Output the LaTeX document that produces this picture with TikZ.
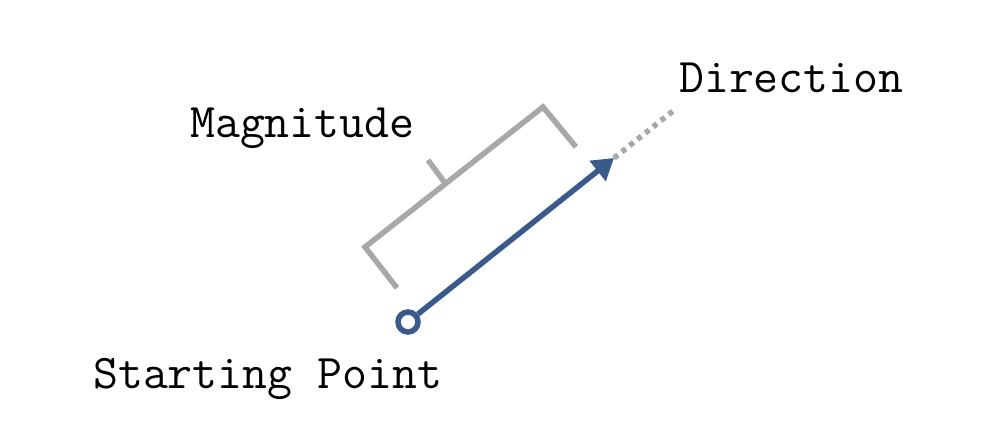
\documentclass[tikz,border=0pt]{standalone}
\usepackage{tikz}
\usetikzlibrary{arrows.meta,positioning}
\definecolor{vecblue}{HTML}{3A5A8C}
\definecolor{bracegray}{HTML}{A8A8A8}

\begin{document}
\begin{tikzpicture}[x=1pt, y=-1pt,
  lbl/.style={font=\ttfamily\fontsize{48.4}{54}\selectfont, inner sep=0pt, anchor=base west},
  pt/.style={draw=vecblue, circle, line width=5.5pt, minimum size=20pt, inner sep=0pt, fill=white},
  vec/.style={draw=vecblue, line width=5.5pt, -{Triangle[length=21pt,width=25pt]}},
  brk/.style={draw=bracegray, line width=5.5pt},
  dots/.style={draw=bracegray, line width=5.5pt, dash pattern=on 5pt off 5pt}]
\useasboundingbox (0,0) rectangle (989,436);
\coordinate (tip) at (614,158);
\coordinate (dirend) at (673,111);
\coordinate (b1) at (397,288);
\coordinate (b2) at (365,247);
\coordinate (b3) at (543,107);
\coordinate (b4) at (576,147);
\coordinate (tk) at (428,160);
\coordinate (tkb) at (445,183);
\draw[dots] (tip) -- (dirend);
\draw[brk] (b1) -- (b2) -- (b3) -- (b4);
\draw[brk] (tkb) -- (tk);
\node[pt] (start) at (408,322) {};
\draw[vec] (start) -- (tip);
\node[lbl] (mag) at (190,138) {Magnitude};
\node[lbl] (dir) at (679,93) {Direction};
\node[lbl] (sp) at (93,388) {Starting Point};
\end{tikzpicture}
\end{document}
